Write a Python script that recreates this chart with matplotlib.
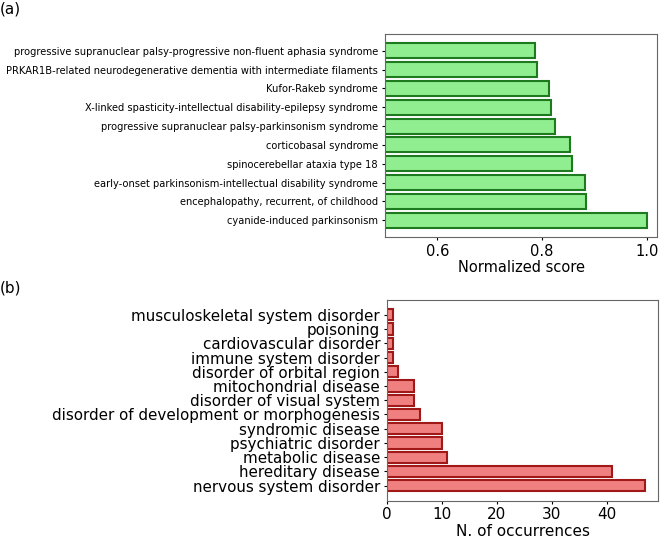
import matplotlib
matplotlib.use("Agg")
import matplotlib.pyplot as plt

# (a) top diseases by normalized score (bottom to top)
diseases = [
    "cyanide-induced parkinsonism",
    "encephalopathy, recurrent, of childhood",
    "early-onset parkinsonism-intellectual disability syndrome",
    "spinocerebellar ataxia type 18",
    "corticobasal syndrome",
    "progressive supranuclear palsy-parkinsonism syndrome",
    "X-linked spasticity-intellectual disability-epilepsy syndrome",
    "Kufor-Rakeb syndrome",
    "PRKAR1B-related neurodegenerative dementia with intermediate filaments",
    "progressive supranuclear palsy-progressive non-fluent aphasia syndrome",
]
scores = [1.0, 0.884, 0.881, 0.858, 0.854, 0.825, 0.817, 0.814, 0.790, 0.787]

# (b) disease classes by number of occurrences (bottom to top)
classes = [
    "nervous system disorder",
    "hereditary disease",
    "metabolic disease",
    "psychiatric disorder",
    "syndromic disease",
    "disorder of development or morphogenesis",
    "disorder of visual system",
    "mitochondrial disease",
    "disorder of orbital region",
    "immune system disorder",
    "cardiovascular disorder",
    "poisoning",
    "musculoskeletal system disorder",
]
counts = [47, 41, 11, 10, 10, 6, 5, 5, 2, 1, 1, 1, 1]

fig = plt.figure(figsize=(6.6, 5.38), dpi=100)

# --- panel (a) ---
ax1 = fig.add_axes([0.5833, 0.5595, 0.4126, 0.3773])
ax1.barh(range(len(diseases)), scores, color="lightgreen",
         edgecolor="#1e7a1e", linewidth=1.5)
ax1.set_yticks(range(len(diseases)))
ax1.set_yticklabels(diseases, fontsize=7.1)
ax1.set_xlim(0.5, 1.02)
ax1.set_xticks([0.6, 0.8, 1.0])
ax1.tick_params(axis="x", labelsize=10.5)
ax1.set_xlabel("Normalized score", fontsize=10.5, labelpad=1)

# --- panel (b) ---
ax2 = fig.add_axes([0.5864, 0.0697, 0.4106, 0.3727])
ax2.barh(range(len(classes)), counts, color="lightcoral",
         edgecolor="#a01818", linewidth=1.5)
ax2.set_yticks(range(len(classes)))
ax2.set_yticklabels(classes, fontsize=10.9)
ax2.set_xticks([0, 10, 20, 30, 40])
ax2.tick_params(axis="x", labelsize=11)
ax2.set_xlabel("N. of occurrences", fontsize=11, labelpad=1)

for ax in (ax1, ax2):
    ax.tick_params(length=2.5, pad=2.5)
    for s in ax.spines.values():
        s.set_color("0.4")

fig.text(0.0, 0.983, "(a)", fontsize=11, va="center", ha="left")
fig.text(0.0, 0.465, "(b)", fontsize=11, va="center", ha="left")

fig.savefig("out.png", dpi=100)
